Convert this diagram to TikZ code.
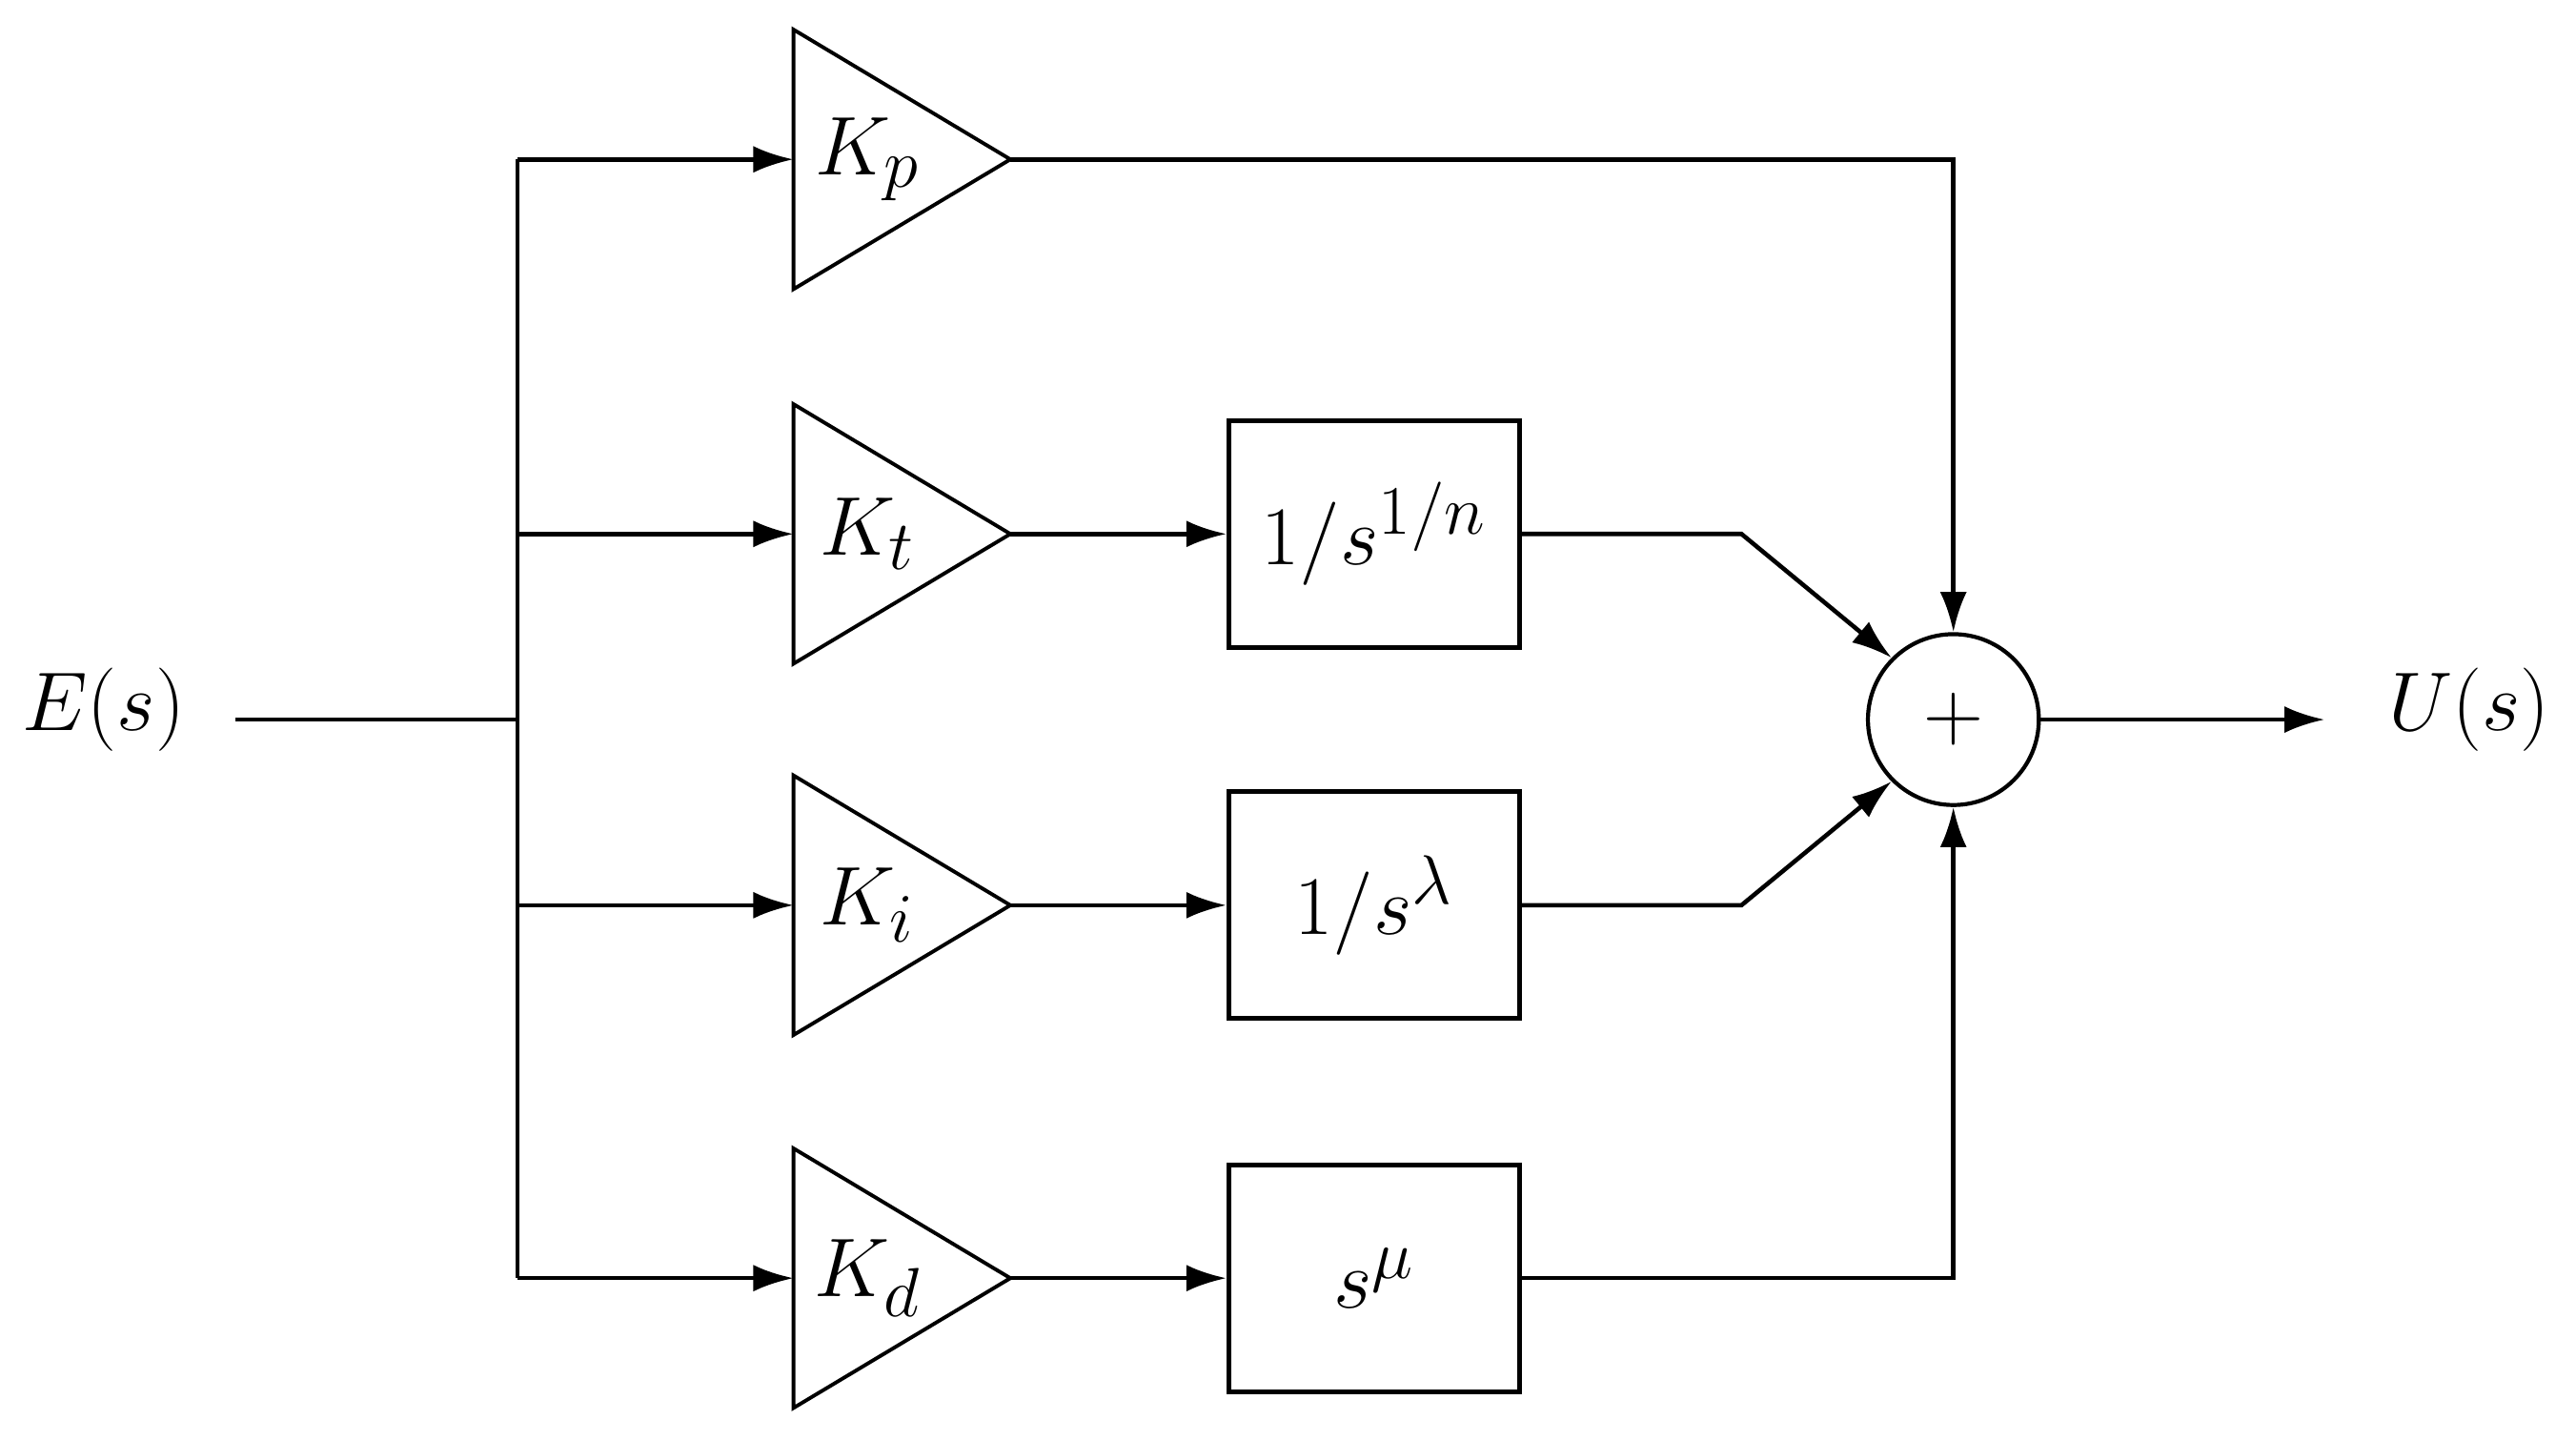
\documentclass[tikz,border=0pt]{standalone}
\usetikzlibrary{arrows.meta}
\begin{document}
\begin{tikzpicture}[x=0.01724cm,y=-0.01724cm,
  wire/.style={line width=1.3pt},
  arr/.style={wire,-{Latex[length=12pt,width=8pt]}},
  lab/.style={font=\fontsize{32}{36}\selectfont},
  blk/.style={draw,line width=1.4pt,minimum width=177*0.01724cm,minimum height=138*0.01724cm,font=\fontsize{32}{36}\selectfont,inner sep=0pt},
  tri/.style={line width=1.1pt}]
\useasboundingbox (0,0) rectangle (1568,876);
\node[lab] (E) at (63,432) {$E(s)$};
\node[lab] (U) at (1503,432) {$U(s)$};
\coordinate (in) at (143,438);
\coordinate (br) at (315,438);
\draw[wire] (in) -- (br);
\draw[wire] (315,97) -- (315,778);
\foreach \n/\y/\k in {p/97/K_p,t/325/K_t,i/551/K_i,d/778/K_d}{
  \coordinate (L\n) at (483,\y);
  \coordinate (T\n) at (615,\y);
  \coordinate (B\n) at (315,\y);
  \draw[tri] (483,\y-79) -- (T\n) -- (483,\y+79) -- cycle;
  \node[lab] (k\n) at (528,\y) {$\k$};
  \draw[arr] (B\n) -- (L\n);
}
\node[blk] (g1) at (836.5,325) {$1/s^{1/n}$};
\node[blk] (g2) at (836.5,551) {$1/s^{\lambda}$};
\node[blk] (g3) at (836.5,778) {$s^{\mu}$};
\draw[arr] (Tt) -- (g1.west);
\draw[arr] (Ti) -- (g2.west);
\draw[arr] (Td) -- (g3.west);
\node[draw,circle,line width=1.2pt,minimum size=104*0.01724cm,inner sep=0pt,font=\fontsize{48}{52}\selectfont] (S) at (1189,438) {$+$};
\coordinate (c1) at (1060,325);
\coordinate (c2) at (1060,551);
\coordinate (out) at (1415,438);
\draw[arr] (Tp) -- (1189,97) -- (S.north);
\draw[arr] (g1.east) -- (c1) -- (S.135);
\draw[arr] (g2.east) -- (c2) -- (S.-135);
\draw[arr] (g3.east) -- (1189,778) -- (S.south);
\draw[arr] (S.east) -- (out);
\end{tikzpicture}
\end{document}
